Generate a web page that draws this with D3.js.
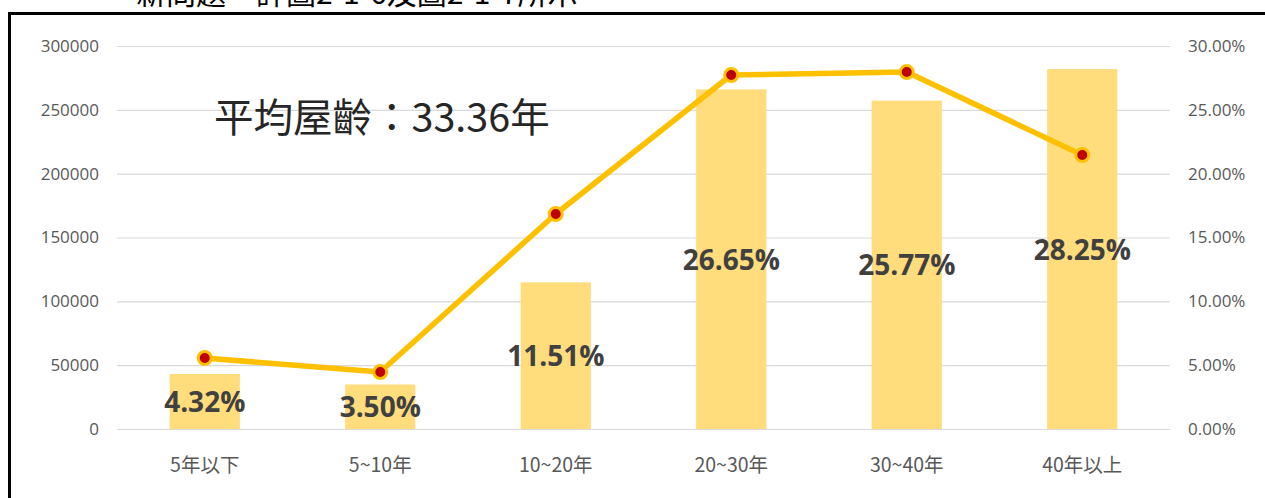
<!DOCTYPE html>
<html>
<head>
<meta charset="utf-8">
<script src="https://cdn.jsdelivr.net/npm/d3@7"></script>
<style>
  html, body { margin: 0; padding: 0; background: #fff; }
  svg { display: block; }
</style>
</head>
<body>
<svg id="chart" width="1265" height="498"></svg>
<script>
// ---- data ----
const categories = ["5年以下", "5~10年", "10~20年", "20~30年", "30~40年", "40年以上"];
const barValues = [43100, 34900, 114900, 266000, 257200, 281900];
const shareLabels = [4.32, 3.50, 11.51, 26.65, 25.77, 28.25];
const lineValues = [0.0556, 0.0446, 0.1684, 0.2773, 0.2796, 0.2146];
const leftTicks = [0, 50000, 100000, 150000, 200000, 250000, 300000];
const rightTicks = [0, 0.05, 0.10, 0.15, 0.20, 0.25, 0.30];
const annotation = "平均屋齡：33.36年";
const clippedHeading = "新問題一詳圖2-1-6及圖2-1-7所示";

// ---- layout ----
const svg = d3.select("#chart");
const plotL = 117, plotR = 1170, plotTop = 46, plotBottom = 429;

const x = d3.scaleBand().domain(categories).range([plotL, plotR])
  .paddingInner(0.6).paddingOuter(0.3);
const yL = d3.scaleLinear().domain([0, 300000]).range([plotBottom, plotTop]);
const yR = d3.scaleLinear().domain([0, 0.30]).range([plotBottom, plotTop]);

// heading text, cut off by the top edge as in the source page
svg.append("text")
  .attr("x", 136).attr("y", 4)
  .attr("font-family", "'Noto Sans CJK TC', sans-serif")
  .attr("font-size", 30)
  .attr("fill", "#000")
  .text(clippedHeading);

// frame
svg.append("rect")
  .attr("x", 9.5).attr("y", 13.5)
  .attr("width", 1300).attr("height", 520)
  .attr("fill", "#fff")
  .attr("stroke", "#000").attr("stroke-width", 3);

// gridlines
const grid = svg.append("g")
  .attr("transform", `translate(${plotL},0)`)
  .call(d3.axisLeft(yL).tickValues(leftTicks).tickSize(-(plotR - plotL)).tickFormat(""));
grid.select(".domain").remove();
grid.selectAll("line").attr("stroke", "#d9d9d9").attr("stroke-width", 1.2);

// left axis
const axL = svg.append("g")
  .attr("transform", `translate(${plotL},0)`)
  .call(d3.axisLeft(yL).tickValues(leftTicks).tickSize(0).tickPadding(18).tickFormat(d3.format("d")));
axL.select(".domain").remove();
axL.selectAll("text")
  .attr("font-family", "'Open Sans', sans-serif")
  .attr("font-size", 17)
  .attr("fill", "#595959");

// right axis
const axR = svg.append("g")
  .attr("transform", `translate(${plotR},0)`)
  .call(d3.axisRight(yR).tickValues(rightTicks).tickSize(0).tickPadding(18).tickFormat(d3.format(".2%")));
axR.select(".domain").remove();
axR.selectAll("text")
  .attr("font-family", "'Open Sans', sans-serif")
  .attr("font-size", 17)
  .attr("fill", "#595959");

// x axis
const axX = svg.append("g")
  .attr("transform", `translate(0,${plotBottom})`)
  .call(d3.axisBottom(x).tickSize(0).tickPadding(29));
axX.select(".domain").remove();
axX.selectAll("text")
  .attr("font-family", "'Noto Sans CJK TC', sans-serif")
  .attr("font-size", 19.5)
  .attr("fill", "#595959");

// bars
svg.append("g").selectAll("rect")
  .data(barValues)
  .join("rect")
  .attr("x", (d, i) => x(categories[i]))
  .attr("y", d => yL(d))
  .attr("width", x.bandwidth())
  .attr("height", d => yL(0) - yL(d))
  .attr("fill", "#FFDC7C");

// bar labels (centered in bar)
svg.append("g").selectAll("text")
  .data(barValues)
  .join("text")
  .attr("x", (d, i) => x(categories[i]) + x.bandwidth() / 2)
  .attr("y", d => yL(d / 2))
  .attr("dy", "0.38em")
  .attr("text-anchor", "middle")
  .attr("font-family", "'Open Sans', sans-serif")
  .attr("font-weight", "bold")
  .attr("font-size", 28)
  .attr("fill", "#404040")
  .text((d, i) => shareLabels[i].toFixed(2) + "%");

// line
const line = d3.line()
  .x((d, i) => x(categories[i]) + x.bandwidth() / 2)
  .y(d => yR(d));
svg.append("path")
  .datum(lineValues)
  .attr("d", line)
  .attr("fill", "none")
  .attr("stroke", "#FFC000")
  .attr("stroke-width", 5.5)
  .attr("stroke-linejoin", "round");

svg.append("g").selectAll("circle")
  .data(lineValues)
  .join("circle")
  .attr("cx", (d, i) => x(categories[i]) + x.bandwidth() / 2)
  .attr("cy", d => yR(d))
  .attr("r", 6.5)
  .attr("fill", "#C00000")
  .attr("stroke", "#FFC000")
  .attr("stroke-width", 3);

// annotation
svg.append("text")
  .attr("x", 214).attr("y", 132)
  .attr("font-family", "'Noto Sans CJK TC', sans-serif")
  .attr("font-size", 39.5)
  .attr("fill", "#262626")
  .text(annotation);
</script>
</body>
</html>
